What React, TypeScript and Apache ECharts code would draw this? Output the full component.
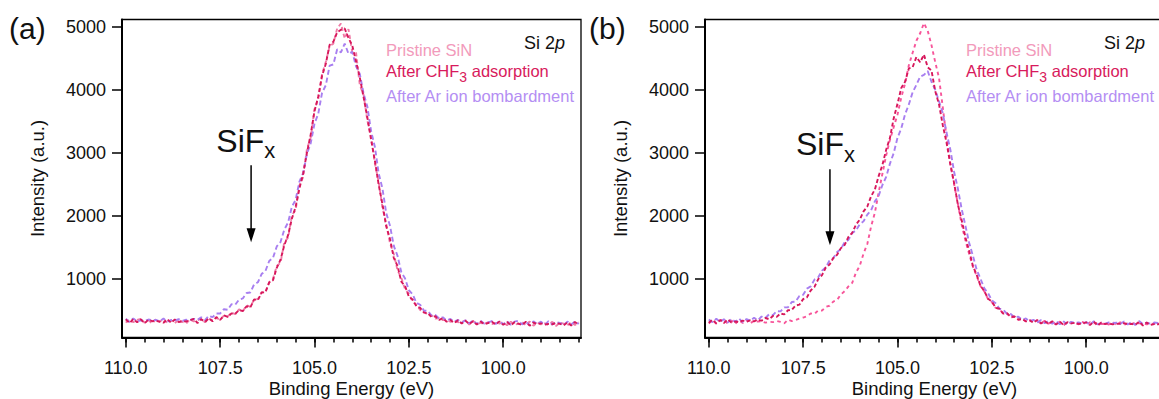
import React, { useEffect, useRef } from "react";
import * as echarts from "echarts";

const FONT = "'Liberation Sans', Arial, Helvetica, sans-serif";

// Binding energy grid (eV)
const energies = [
  110.0, 109.9, 109.8, 109.7, 109.6, 109.5, 109.4, 109.3, 109.2, 109.1,
  109.0, 108.9, 108.8, 108.7, 108.6, 108.5, 108.4, 108.3, 108.2, 108.1,
  108.0, 107.9, 107.8, 107.7, 107.6, 107.5, 107.4, 107.3, 107.2, 107.1,
  107.0, 106.9, 106.8, 106.7, 106.6, 106.5, 106.4, 106.3, 106.2, 106.1,
  106.0, 105.9, 105.8, 105.7, 105.6, 105.5, 105.4, 105.3, 105.2, 105.1,
  105.0, 104.9, 104.8, 104.7, 104.6, 104.5, 104.4, 104.3, 104.2, 104.1,
  104.0, 103.9, 103.8, 103.7, 103.6, 103.5, 103.4, 103.3, 103.2, 103.1,
  103.0, 102.9, 102.8, 102.7, 102.6, 102.5, 102.4, 102.3, 102.2, 102.1,
  102.0, 101.9, 101.8, 101.7, 101.6, 101.5, 101.4, 101.3, 101.2, 101.1,
  101.0, 100.9, 100.8, 100.7, 100.6, 100.5, 100.4, 100.3, 100.2, 100.1,
  100.0, 99.9, 99.8, 99.7, 99.6, 99.5, 99.4, 99.3, 99.2, 99.1,
  99.0, 98.9, 98.8, 98.7, 98.6, 98.5, 98.4, 98.3, 98.2, 98.1,
  98.0,
];

// Panel (a)
const pristineA = [
  311, 362, 318, 355, 372, 309, 351, 296, 366, 328,
  368, 305, 347, 301, 361, 322, 298, 364, 331, 347,
  372, 316, 371, 352, 384, 362, 421, 409, 468, 445,
  521, 488, 589, 562, 678, 684, 792, 801, 951, 1005,
  1210, 1262, 1590, 1660, 2010, 2100, 2490, 2620, 3070, 3250,
  3700, 3860, 4260, 4450, 4700, 4740, 4980, 5060, 4820, 4970,
  4610, 4600, 4080, 3930, 3520, 3260, 2840, 2540, 2140, 1880,
  1570, 1400, 1140, 1020, 840, 770, 640, 600, 510, 492,
  430, 428, 376, 381, 352, 355, 326, 334, 318, 322,
  346, 281, 338, 290, 306, 298, 314, 287, 306, 296,
  318, 269, 326, 278, 292, 320, 271, 328, 262, 314,
  285, 298, 279, 324, 258, 311, 296, 268, 318, 272,
  316,
];
const chf3A = [
  362, 305, 368, 318, 360, 302, 356, 334, 342, 325,
  310, 366, 309, 360, 322, 331, 330, 349, 372, 305,
  365, 322, 381, 333, 399, 356, 425, 401, 458, 452,
  510, 494, 571, 552, 680, 668, 790, 792, 950, 985,
  1180, 1310, 1540, 1700, 1960, 2150, 2440, 2680, 3010, 3300,
  3670, 3900, 4230, 4420, 4720, 4770, 4920, 4960, 4980, 4830,
  4710, 4460, 4200, 3890, 3570, 3210, 2880, 2500, 2190, 1840,
  1640, 1340, 1210, 960, 890, 722, 678, 568, 545, 470,
  462, 400, 412, 355, 381, 326, 355, 304, 348, 296,
  341, 289, 334, 281, 328, 286, 305, 326, 282, 331,
  276, 322, 268, 318, 296, 274, 325, 262, 312, 288,
  299, 282, 289, 285, 306, 292, 269, 314, 265, 321,
  276,
];
const arA = [
  371, 322, 378, 330, 349, 341, 360, 349, 355, 332,
  376, 325, 352, 346, 365, 338, 357, 352, 371, 355,
  396, 352, 420, 398, 456, 455, 524, 515, 604, 595,
  676, 695, 782, 790, 918, 952, 1085, 1130, 1290, 1340,
  1520, 1590, 1790, 1900, 2150, 2260, 2550, 2690, 2990, 3160,
  3470, 3630, 3960, 4080, 4390, 4410, 4650, 4600, 4740, 4580,
  4610, 4380, 4260, 3950, 3740, 3350, 3100, 2680, 2440, 2050,
  1850, 1530, 1370, 1110, 1010, 825, 760, 625, 595, 500,
  498, 424, 433, 376, 396, 344, 370, 324, 354, 310,
  348, 302, 344, 290, 340, 295, 316, 336, 290, 332,
  286, 334, 278, 327, 340, 284, 322, 272, 331, 286,
  327, 276, 334, 280, 322, 306, 274, 327, 282, 331,
  290,
];

// Panel (b)
const pristineB = [
  298, 352, 292, 347, 358, 299, 344, 289, 353, 305,
  355, 296, 346, 328, 334, 310, 324, 319, 337, 322,
  300, 358, 335, 354, 376, 392, 412, 457, 449, 506,
  502, 562, 579, 646, 672, 758, 810, 886, 942, 1106,
  1214, 1406, 1559, 1836, 2054, 2376, 2674, 2966, 3214, 3416,
  3614, 3886, 4104, 4396, 4594, 4786, 4904, 5066, 4944, 4716,
  4444, 4196, 3724, 3246, 2834, 2506, 2194, 1866, 1614, 1396,
  1194, 1046, 889, 808, 682, 638, 544, 528, 452, 458,
  394, 404, 356, 374, 330, 351, 322, 338, 299, 342,
  292, 335, 280, 328, 269, 321, 302, 308, 284, 326,
  272, 318, 299, 307, 290, 296, 282, 327, 271, 318,
  280, 297, 292, 308, 299, 304, 285, 295, 290, 310,
  286,
];
const chf3B = [
  308, 357, 300, 351, 306, 362, 315, 328, 322, 342,
  326, 346, 332, 357, 342, 384, 366, 417, 402, 456,
  442, 508, 512, 582, 596, 684, 712, 822, 879, 1001,
  1066, 1186, 1232, 1338, 1389, 1494, 1544, 1671, 1736, 1866,
  1946, 2076, 2154, 2316, 2424, 2636, 2814, 3056, 3244, 3556,
  3784, 4036, 4134, 4346, 4364, 4526, 4444, 4566, 4364, 4316,
  3984, 3776, 3444, 3166, 2824, 2526, 2184, 1936, 1664, 1446,
  1204, 1066, 894, 811, 689, 644, 549, 531, 454, 461,
  402, 408, 359, 368, 332, 347, 309, 354, 296, 336,
  289, 334, 280, 326, 272, 318, 299, 307, 290, 300,
  316, 272, 328, 263, 312, 289, 299, 283, 292, 292,
  303, 285, 292, 279, 326, 266, 314, 273, 288, 284,
  307,
];
const arB = [
  361, 316, 372, 322, 365, 311, 368, 324, 377, 320,
  368, 342, 387, 350, 408, 385, 444, 430, 494, 489,
  554, 556, 638, 645, 734, 754, 851, 886, 994, 1030,
  1136, 1189, 1298, 1334, 1434, 1479, 1588, 1624, 1734, 1776,
  1874, 1919, 2026, 2094, 2236, 2324, 2496, 2624, 2836, 3004,
  3246, 3394, 3616, 3774, 3966, 4084, 4216, 4244, 4306, 4134,
  4006, 3824, 3636, 3324, 3056, 2704, 2436, 2114, 1846, 1574,
  1366, 1144, 1006, 854, 778, 664, 618, 532, 518, 449,
  448, 392, 406, 356, 377, 333, 356, 312, 351, 302,
  341, 294, 334, 286, 328, 280, 324, 304, 315, 295,
  321, 276, 332, 285, 304, 294, 313, 302, 310, 290,
  330, 282, 321, 273, 336, 286, 309, 295, 312, 306,
  324,
];

const seriesNames = ["Pristine SiN", "After CHF3 adsorption", "After Ar ion bombardment"];
const majorTicks = [110, 107.5, 105, 102.5, 100];
const minorTicks = [
  110, 109.5, 109, 108.5, 108, 107.5, 107, 106.5, 106, 105.5, 105, 104.5, 104,
  103.5, 103, 102.5, 102, 101.5, 101, 100.5, 100, 99.5, 99, 98.5, 98,
];
const yTicks = [1000, 2000, 3000, 4000, 5000];
const panelLabels = ["(a)", "(b)"];

// annotation anchors (data coordinates)
const arrowEnergy = [106.68, 106.79];
const arrowFrom = [2810, 2747];
const arrowTo = [1588, 1540];
const labelEnergy = [107.6, 107.69];
const labelValue = [3200, 3140];

const X_MIN = 97.94;
const X_MAX = 110.1;
const Y_MIN = 75;
const Y_MAX = 5123;

const COLORS = {
  pristineA: "#f07aa6",
  pristineB: "#f7559a",
  chf3: "#d7175b",
  ar: "#a87ff0",
  pristineText: "#f29abb",
  chf3Text: "#d81a5c",
  arText: "#b48ef3",
};

const GRIDS = [
  { left: 122, top: 19.5, width: 459, height: 318 },
  { left: 705, top: 19.5, width: 459, height: 318 },
];

function pairs(ys: number[]) {
  return energies.map((e, i) => [e, ys[i]]);
}

function buildOption() {
  const xAxis: any[] = [];
  const yAxis: any[] = [];
  GRIDS.forEach((_, g) => {
    xAxis.push({
      type: "value",
      gridIndex: g,
      min: X_MIN,
      max: X_MAX,
      inverse: true,
      position: "bottom",
      axisLine: { show: true, onZero: false, lineStyle: { color: "#000", width: 2 } },
      axisTick: { show: true, inside: false, length: 10, customValues: majorTicks, lineStyle: { color: "#000", width: 1.5 } },
      axisLabel: {
        show: true,
        customValues: majorTicks,
        formatter: (v: number) => v.toFixed(1),
        fontSize: 18,
        fontFamily: FONT,
        color: "#111",
        margin: 21,
      },
      splitLine: { show: false },
      name: "Binding Energy (eV)",
      nameLocation: "middle",
      nameGap: 41,
      nameMoveOverlap: false,
      nameTextStyle: { fontSize: 18.5, fontFamily: FONT, color: "#111" },
    });
    xAxis.push({
      type: "value",
      gridIndex: g,
      min: X_MIN,
      max: X_MAX,
      inverse: true,
      position: "bottom",
      axisLine: { show: false, onZero: false },
      axisTick: { show: true, inside: false, length: 5, customValues: minorTicks, lineStyle: { color: "#000", width: 1.5 } },
      axisLabel: { show: false },
      splitLine: { show: false },
    });
    yAxis.push({
      type: "value",
      gridIndex: g,
      min: Y_MIN,
      max: Y_MAX,
      axisLine: { show: true, onZero: false, lineStyle: { color: "#000", width: 2 } },
      axisTick: { show: true, inside: false, length: 10, customValues: yTicks, lineStyle: { color: "#000", width: 1.5 } },
      axisLabel: {
        show: true,
        customValues: yTicks,
        formatter: (v: number) => String(v),
        fontSize: 18,
        fontFamily: FONT,
        color: "#111",
        margin: 16,
      },
      splitLine: { show: false },
      name: "Intensity (a.u.)",
      nameLocation: "middle",
      nameRotate: 90,
      nameGap: 75,
      nameMoveOverlap: false,
      nameTextStyle: { fontSize: 18.5, fontFamily: FONT, color: "#111" },
    });
  });

  const mk = (name: string, g: number, data: number[], color: string, dash: number[]) => ({
    type: "line",
    name,
    xAxisIndex: g * 2,
    yAxisIndex: g,
    data: pairs(data),
    showSymbol: false,
    symbol: "none",
    lineStyle: { color, width: 1.9, type: dash },
    itemStyle: { color },
    silent: true,
  });

  const series = [
    mk(seriesNames[0], 0, pristineA, COLORS.pristineA, [4, 3]),
    mk(seriesNames[2], 0, arA, COLORS.ar, [5, 3]),
    mk(seriesNames[1], 0, chf3A, COLORS.chf3, [4, 2.5]),
    mk(seriesNames[0], 1, pristineB, COLORS.pristineB, [3.5, 3.5]),
    mk(seriesNames[2], 1, arB, COLORS.ar, [5, 3]),
    mk(seriesNames[1], 1, chf3B, COLORS.chf3, [4, 2.5]),
  ];

  return {
    animation: false,
    backgroundColor: "#fff",
    textStyle: { fontFamily: FONT },
    grid: GRIDS.map((gr) => ({
      ...gr,
      show: true,
      borderColor: "#000",
      borderWidth: 1.3,
      backgroundColor: "transparent",
      containLabel: false,
      outerBoundsMode: "none",
    })),
    xAxis,
    yAxis,
    series,
  };
}

function buildGraphic(chart: any) {
  const els: any[] = [];
  const legendX = [386, 966];
  const siX = [524, 1104];
  const panelX = [9, 589];
  GRIDS.forEach((_, g) => {
    const top = chart.convertToPixel({ gridIndex: g }, [arrowEnergy[g], arrowFrom[g]]) as number[];
    const tip = chart.convertToPixel({ gridIndex: g }, [arrowEnergy[g], arrowTo[g]]) as number[];
    els.push({
      type: "line",
      shape: { x1: top[0], y1: top[1], x2: tip[0], y2: tip[1] - 10 },
      style: { stroke: "#000", lineWidth: 1.5 },
      silent: true,
    });
    els.push({
      type: "polygon",
      shape: { points: [[tip[0], tip[1]], [tip[0] - 4.5, tip[1] - 14], [tip[0] + 4.5, tip[1] - 14]] },
      style: { fill: "#000" },
      silent: true,
    });
    const lab = chart.convertToPixel({ gridIndex: g }, [labelEnergy[g], labelValue[g]]) as number[];
    els.push({
      type: "text",
      x: lab[0],
      y: lab[1],
      silent: true,
      style: {
        text: "{m|SiF}{s|x}",
        align: "left",
        verticalAlign: "middle",
        rich: {
          m: { fontSize: 32, fontFamily: FONT, fill: "#111", lineHeight: 42, verticalAlign: "middle" },
          s: { fontSize: 22, fontFamily: FONT, fill: "#111", lineHeight: 22, verticalAlign: "bottom" },
        },
      },
    });
    // panel letter
    els.push({
      type: "text",
      x: panelX[g],
      y: 28,
      silent: true,
      style: { text: panelLabels[g], fontSize: 30, fontFamily: FONT, fill: "#111", align: "left", verticalAlign: "middle" },
    });
    // Si 2p
    els.push({
      type: "text",
      x: siX[g],
      y: 43,
      silent: true,
      style: {
        text: "{n|Si 2}{i|p}",
        align: "left",
        verticalAlign: "middle",
        rich: {
          n: { fontSize: 18, fontFamily: FONT, fill: "#111" },
          i: { fontSize: 18, fontFamily: FONT, fill: "#111", fontStyle: "italic" },
        },
      },
    });
    // legend lines
    els.push({
      type: "text",
      x: legendX[g],
      y: 50,
      silent: true,
      style: { text: seriesNames[0], fontSize: 16.5, fontFamily: FONT, fill: COLORS.pristineText, align: "left", verticalAlign: "middle" },
    });
    els.push({
      type: "text",
      x: legendX[g],
      y: 71,
      silent: true,
      style: {
        text: "{a|After CHF}{s|3}{a| adsorption}",
        align: "left",
        verticalAlign: "middle",
        rich: {
          a: { fontSize: 16.5, fontFamily: FONT, fill: COLORS.chf3Text, lineHeight: 26, verticalAlign: "middle" },
          s: { fontSize: 14, fontFamily: FONT, fill: COLORS.chf3Text, lineHeight: 12, verticalAlign: "bottom" },
        },
      },
    });
    els.push({
      type: "text",
      x: legendX[g],
      y: 96,
      silent: true,
      style: { text: seriesNames[2], fontSize: 16.5, fontFamily: FONT, fill: COLORS.arText, align: "left", verticalAlign: "middle" },
    });
  });
  return els;
}

export default function App() {
  const ref = useRef<HTMLDivElement>(null);
  useEffect(() => {
    if (!ref.current) return;
    const chart = echarts.init(ref.current, null, { renderer: "svg" });
    chart.setOption(buildOption() as any);
    chart.setOption({ graphic: buildGraphic(chart) } as any);
    return () => chart.dispose();
  }, []);
  return (
    <div
      ref={ref}
      style={{ position: "absolute", left: 0, top: 0, width: 1159, height: 399, background: "#fff" }}
    />
  );
}
